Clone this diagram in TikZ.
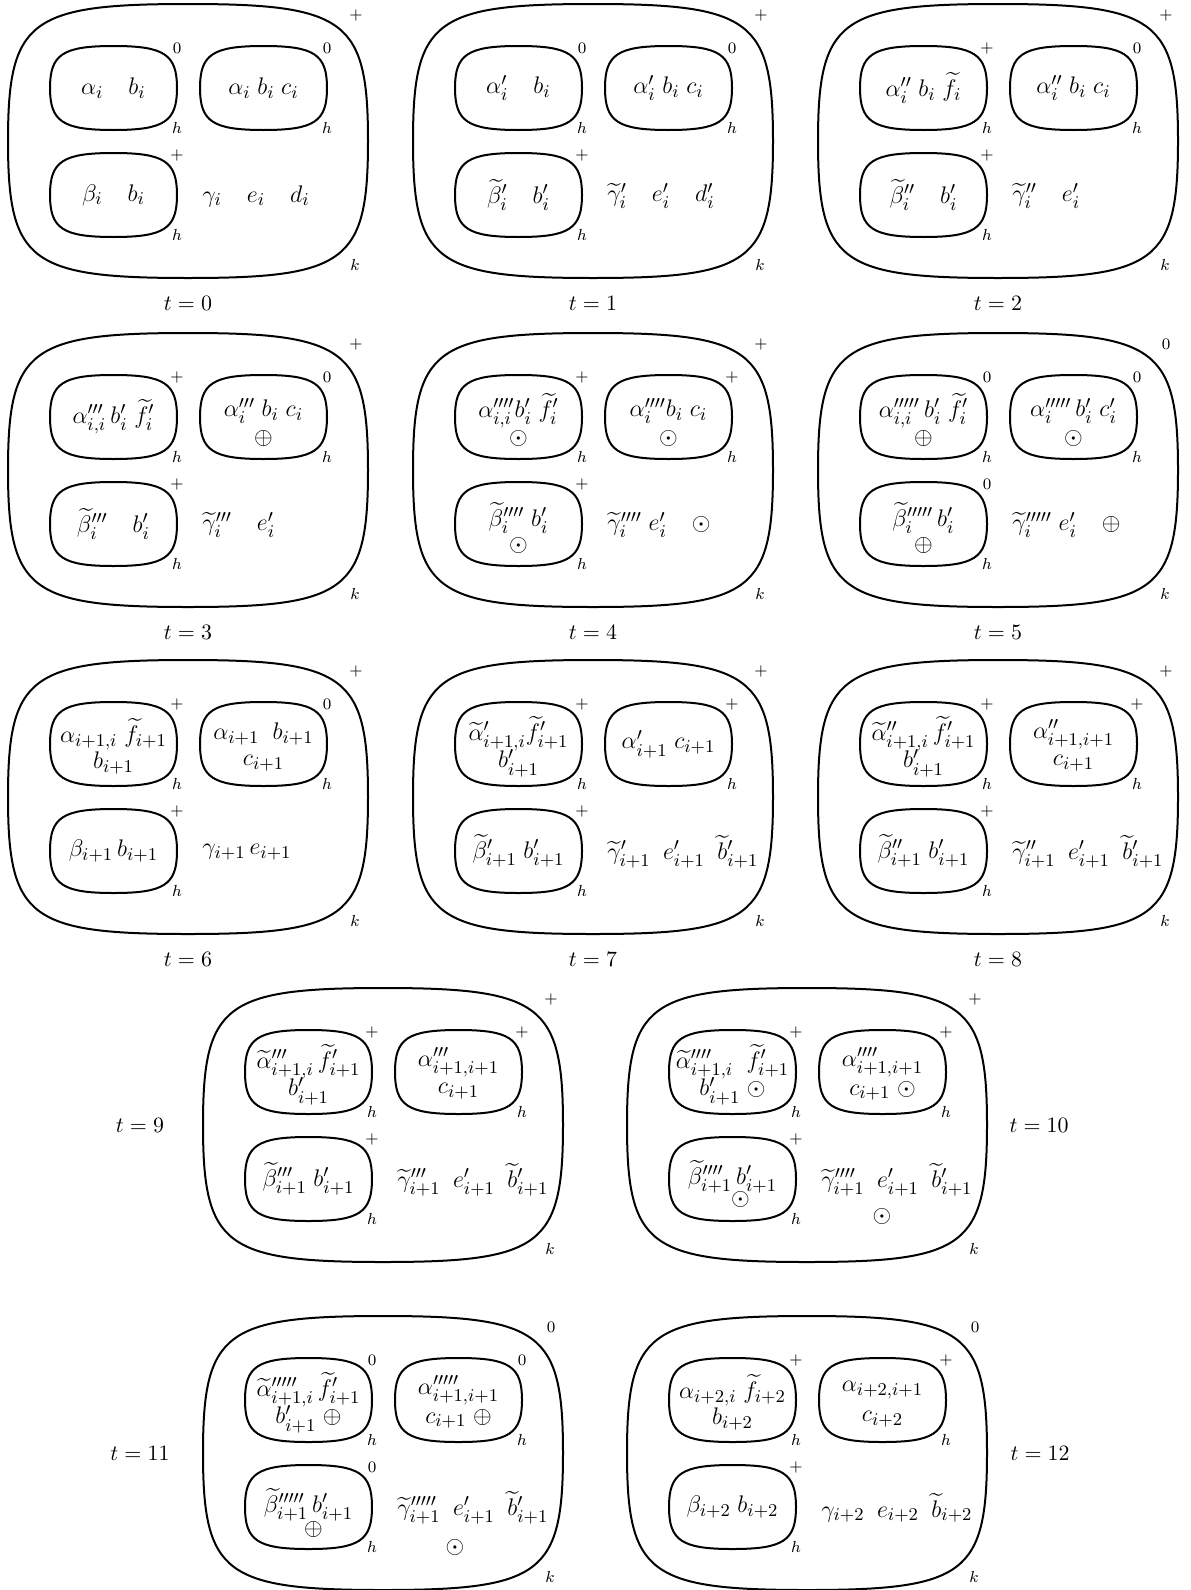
\documentclass[tikz,border=0pt]{standalone}
\usepackage{amsmath,amssymb}
\usetikzlibrary{calc,positioning}

% rounded box: centre x, centre y, half width, half height, squareness
\newcommand{\blob}[5]{%
  \draw[blobline] ({#1},{#2-#4})
    .. controls ({#1+#5*#3},{#2-#4}) and ({#1+#3},{#2-#5*#4}) .. ({#1+#3},{#2})
    .. controls ({#1+#3},{#2+#5*#4}) and ({#1+#5*#3},{#2+#4}) .. ({#1},{#2+#4})
    .. controls ({#1-#5*#3},{#2+#4}) and ({#1-#3},{#2+#5*#4}) .. ({#1-#3},{#2})
    .. controls ({#1-#3},{#2-#5*#4}) and ({#1-#5*#3},{#2-#4}) .. cycle;}
\newcommand{\cell}[4]{%
  \coordinate (#1) at (#2,#3);
  \blob{#2}{#3}{63.5}{42}{0.8}
  \node[tag] (#1p) at ({#2+63.5},{#3-40}) {$#4$};
  \node[tag] (#1h) at ({#2+63.5},{#3+40}) {$h$};}
\newcommand{\stage}[7]{%
  \begin{scope}[shift={(#2,#3)}]
    \blob{180}{137}{180}{137}{0.88}
    \node[tag] (#1o) at (348,11) {$#4$};
    \node[tag] (#1k) at (347,261) {$k$};
    \cell{#1a}{105.5}{84}{#5}
    \cell{#1b}{255.5}{84}{#6}
    \cell{#1c}{105.5}{191}{#7}
    \coordinate (#1d) at (194,192);
    \coordinate (#1t) at (180,299);
  \end{scope}}

\begin{document}
\begin{tikzpicture}[x=0.5pt,y=-0.5pt,
  blobline/.style={line width=1pt},
  tag/.style={font=\footnotesize,inner sep=0pt},
  txt/.style={font=\fontsize{12.5}{15}\selectfont,inner sep=0pt},
  free/.style={txt,anchor=west},
  lbl/.style={font=\fontsize{11}{13}\selectfont}]
  \useasboundingbox (0,0) rectangle (1190,1590);

  % t = 0
  \stage{s0}{8}{4}{+}{0}{0}{+}
  \node[txt] (s0x) at (s0a) {$\alpha_i \quad b_i$};
  \node[txt] (s0y) at (s0b) {$\alpha_i\; b_i\; c_i$};
  \node[txt] (s0z) at (s0c) {$\beta_i \quad b_i$};
  \node[free] (s0w) at (s0d) {$\gamma_i \quad e_i \quad d_i$};
  \node[lbl] (s0l) at (s0t) {$t=0$};

  % t = 1
  \stage{s1}{413}{4}{+}{0}{0}{+}
  \node[txt] (s1x) at (s1a) {$\alpha'_i \quad b_i$};
  \node[txt] (s1y) at (s1b) {$\alpha'_i\; b_i\; c_i$};
  \node[txt] (s1z) at (s1c) {$\widetilde{\beta}'_i \quad b'_i$};
  \node[free] (s1w) at (s1d) {$\widetilde{\gamma}'_i \quad e'_i \quad d'_i$};
  \node[lbl] (s1l) at (s1t) {$t=1$};

  % t = 2
  \stage{s2}{818}{4}{+}{+}{0}{+}
  \node[txt] (s2x) at (s2a) {$\alpha''_i\; b_i\; \widetilde{f}_i$};
  \node[txt] (s2y) at (s2b) {$\alpha''_i\; b_i\; c_i$};
  \node[txt] (s2z) at (s2c) {$\widetilde{\beta}''_i \quad b'_i$};
  \node[free] (s2w) at (s2d) {$\widetilde{\gamma}''_i \quad e'_i$};
  \node[lbl] (s2l) at (s2t) {$t=2$};

  % t = 3
  \stage{s3}{8}{333}{+}{+}{0}{+}
  \node[txt] (s3x) at (s3a) {$\alpha'''_{i,i}\, b'_i\; \widetilde{f}'_i$};
  \node[txt] (s3y) at ($(s3b)+(0,-6)$) {$\alpha'''_i\; b_i\; c_i$};
  \node[txt] (s3ys) at ($(s3b)+(0,21)$) {$\oplus$};
  \node[txt] (s3z) at (s3c) {$\widetilde{\beta}'''_i \quad b'_i$};
  \node[free] (s3w) at (s3d) {$\widetilde{\gamma}'''_i \quad e'_i$};
  \node[lbl] (s3l) at (s3t) {$t=3$};

  % t = 4
  \stage{s4}{413}{333}{+}{+}{+}{+}
  \node[txt] (s4x) at ($(s4a)+(0,-6)$) {$\alpha''''_{i,i} b'_i\; \widetilde{f}'_i$};
  \node[txt] (s4xs) at ($(s4a)+(0,21)$) {$\odot$};
  \node[txt] (s4y) at ($(s4b)+(0,-6)$) {$\alpha''''_i b_i\; c_i$};
  \node[txt] (s4ys) at ($(s4b)+(0,21)$) {$\odot$};
  \node[txt] (s4z) at ($(s4c)+(0,-6)$) {$\widetilde{\beta}''''_i\; b'_i$};
  \node[txt] (s4zs) at ($(s4c)+(0,21)$) {$\odot$};
  \node[free] (s4w) at (s4d) {$\widetilde{\gamma}''''_i\; e'_i \quad \odot$};
  \node[lbl] (s4l) at (s4t) {$t=4$};

  % t = 5
  \stage{s5}{818}{333}{0}{0}{0}{0}
  \node[txt] (s5x) at ($(s5a)+(0,-6)$) {$\alpha'''''_{i,i}\, b'_i\; \widetilde{f}'_i$};
  \node[txt] (s5xs) at ($(s5a)+(0,21)$) {$\oplus$};
  \node[txt] (s5y) at ($(s5b)+(0,-6)$) {$\alpha'''''_i\, b'_i\; c'_i$};
  \node[txt] (s5ys) at ($(s5b)+(0,21)$) {$\odot$};
  \node[txt] (s5z) at ($(s5c)+(0,-6)$) {$\widetilde{\beta}'''''_i\, b'_i$};
  \node[txt] (s5zs) at ($(s5c)+(0,21)$) {$\oplus$};
  \node[free] (s5w) at (s5d) {$\widetilde{\gamma}'''''_i\; e'_i \quad \oplus$};
  \node[lbl] (s5l) at (s5t) {$t=5$};

  % t = 6
  \stage{s6}{8}{660}{+}{+}{0}{+}
  \node[txt] (s6x) at ($(s6a)+(0,-10)$) {$\alpha_{i+1,i}\; \widetilde{f}_{i+1}$};
  \node[txt] (s6xs) at ($(s6a)+(0,19)$) {$b_{i+1}$};
  \node[txt] (s6y) at ($(s6b)+(0,-10)$) {$\alpha_{i+1}\;\; b_{i+1}$};
  \node[txt] (s6ys) at ($(s6b)+(0,19)$) {$c_{i+1}$};
  \node[txt] (s6z) at (s6c) {$\beta_{i+1}\, b_{i+1}$};
  \node[free] (s6w) at (s6d) {$\gamma_{i+1}\, e_{i+1}$};
  \node[lbl] (s6l) at (s6t) {$t=6$};

  % t = 7
  \stage{s7}{413}{660}{+}{+}{+}{+}
  \node[txt] (s7x) at ($(s7a)+(0,-10)$) {$\widetilde{\alpha}'_{i+1,i}\widetilde{f}'_{i+1}$};
  \node[txt] (s7xs) at ($(s7a)+(0,19)$) {$b'_{i+1}$};
  \node[txt] (s7y) at (s7b) {$\alpha'_{i+1}\; c_{i+1}$};
  \node[txt] (s7z) at (s7c) {$\widetilde{\beta}'_{i+1}\; b'_{i+1}$};
  \node[free] (s7w) at (s7d) {$\widetilde{\gamma}'_{i+1}\enspace e'_{i+1}\enspace \widetilde{b}'_{i+1}$};
  \node[lbl] (s7l) at (s7t) {$t=7$};

  % t = 8
  \stage{s8}{818}{660}{+}{+}{+}{+}
  \node[txt] (s8x) at ($(s8a)+(0,-10)$) {$\widetilde{\alpha}''_{i+1,i}\, \widetilde{f}'_{i+1}$};
  \node[txt] (s8xs) at ($(s8a)+(0,19)$) {$b'_{i+1}$};
  \node[txt] (s8y) at ($(s8b)+(0,-10)$) {$\alpha''_{i+1,i+1}$};
  \node[txt] (s8ys) at ($(s8b)+(0,19)$) {$c_{i+1}$};
  \node[txt] (s8z) at (s8c) {$\widetilde{\beta}''_{i+1}\; b'_{i+1}$};
  \node[free] (s8w) at (s8d) {$\widetilde{\gamma}''_{i+1}\enspace e'_{i+1}\enspace \widetilde{b}'_{i+1}$};
  \node[lbl] (s8l) at (s8t) {$t=8$};

  % t = 9
  \stage{s9}{203}{988}{+}{+}{+}{+}
  \node[txt] (s9x) at ($(s9a)+(0,-10)$) {$\widetilde{\alpha}'''_{i+1,i}\, \widetilde{f}'_{i+1}$};
  \node[txt] (s9xs) at ($(s9a)+(0,19)$) {$b'_{i+1}$};
  \node[txt] (s9y) at ($(s9b)+(0,-10)$) {$\alpha'''_{i+1,i+1}$};
  \node[txt] (s9ys) at ($(s9b)+(0,19)$) {$c_{i+1}$};
  \node[txt] (s9z) at (s9c) {$\widetilde{\beta}'''_{i+1}\; b'_{i+1}$};
  \node[free] (s9w) at (s9d) {$\widetilde{\gamma}'''_{i+1}\enspace e'_{i+1}\enspace \widetilde{b}'_{i+1}$};
  \node[lbl] (s9l) at (140,1125) {$t=9$};

  % t = 10
  \stage{s10}{627}{988}{+}{+}{+}{+}
  \node[txt] (s10x) at ($(s10a)+(0,-10)$) {$\widetilde{\alpha}''''_{i+1,i}\;\; \widetilde{f}'_{i+1}$};
  \node[txt] (s10xs) at ($(s10a)+(0,19)$) {$b'_{i+1}\;\odot$};
  \node[txt] (s10y) at ($(s10b)+(0,-10)$) {$\alpha''''_{i+1,i+1}$};
  \node[txt] (s10ys) at ($(s10b)+(0,19)$) {$c_{i+1}\;\odot$};
  \node[txt] (s10z) at ($(s10c)+(0,-2)$) {$\widetilde{\beta}''''_{i+1}\, b'_{i+1}$};
  \node[txt] (s10zs) at ($(s10c)+(8,20)$) {$\odot$};
  \node[free] (s10w) at (s10d) {$\widetilde{\gamma}''''_{i+1}\enspace e'_{i+1}\enspace \widetilde{b}'_{i+1}$};
  \node[txt] (s10ws) at ($(s10d)+(61,36)$) {$\odot$};
  \node[lbl] (s10l) at (1039,1125) {$t=10$};

  % t = 11
  \stage{s11}{203}{1316}{0}{0}{0}{0}
  \node[txt] (s11x) at ($(s11a)+(0,-10)$) {$\widetilde{\alpha}'''''_{i+1,i}\, \widetilde{f}'_{i+1}$};
  \node[txt] (s11xs) at ($(s11a)+(0,19)$) {$b'_{i+1}\;\oplus$};
  \node[txt] (s11y) at ($(s11b)+(0,-10)$) {$\alpha'''''_{i+1,i+1}$};
  \node[txt] (s11ys) at ($(s11b)+(0,19)$) {$c_{i+1}\;\oplus$};
  \node[txt] (s11z) at ($(s11c)+(0,-2)$) {$\widetilde{\beta}'''''_{i+1}\, b'_{i+1}$};
  \node[txt] (s11zs) at ($(s11c)+(5,22)$) {$\oplus$};
  \node[free] (s11w) at (s11d) {$\widetilde{\gamma}'''''_{i+1}\enspace e'_{i+1}\enspace \widetilde{b}'_{i+1}$};
  \node[txt] (s11ws) at ($(s11d)+(58,39)$) {$\odot$};
  \node[lbl] (s11l) at (140,1453) {$t=11$};

  % t = 12
  \stage{s12}{627}{1316}{0}{+}{+}{+}
  \node[txt] (s12x) at ($(s12a)+(0,-10)$) {$\alpha_{i+2,i}\; \widetilde{f}_{i+2}$};
  \node[txt] (s12xs) at ($(s12a)+(0,19)$) {$b_{i+2}$};
  \node[txt] (s12y) at ($(s12b)+(0,-10)$) {$\alpha_{i+2,i+1}$};
  \node[txt] (s12ys) at ($(s12b)+(0,19)$) {$c_{i+2}$};
  \node[txt] (s12z) at (s12c) {$\beta_{i+2}\; b_{i+2}$};
  \node[free] (s12w) at (s12d) {$\gamma_{i+2}\enspace e_{i+2}\enspace \widetilde{b}_{i+2}$};
  \node[lbl] (s12l) at (1040,1453) {$t=12$};
\end{tikzpicture}
\end{document}
